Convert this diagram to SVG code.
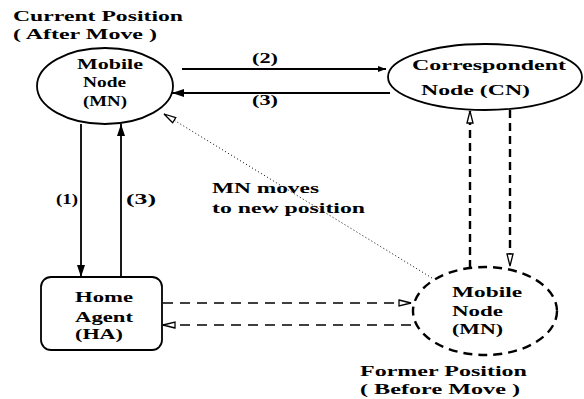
<svg xmlns="http://www.w3.org/2000/svg" width="584" height="399" viewBox="0 0 584 399">
<style>
text{font-family:"Liberation Serif","Times New Roman",serif;font-weight:bold;font-size:15px;fill:#000}
.shape{fill:none;stroke:#000;stroke-width:1.8}
.dashshape{fill:none;stroke:#000;stroke-width:2.4;stroke-dasharray:9 6}
.solid{fill:none;stroke:#000;stroke-width:1.8}
.thickdash{fill:none;stroke:#000;stroke-width:2.4;stroke-dasharray:8 5}
.thindash{fill:none;stroke:#000;stroke-width:1.4;stroke-dasharray:10 7}
.dotted{fill:none;stroke:#000;stroke-width:1;stroke-dasharray:1 2.5}
</style>
<defs>
<marker id="fill" markerUnits="userSpaceOnUse" markerWidth="14" markerHeight="10" refX="12" refY="4" orient="auto">
<path d="M0,0 L12,4 L0,8 z" fill="#000" stroke="none"/>
</marker>
<marker id="small" markerUnits="userSpaceOnUse" markerWidth="10" markerHeight="8" refX="8" refY="3" orient="auto">
<path d="M0,0 L8,3 L0,6 z" fill="#000" stroke="none"/>
</marker>
<marker id="open" markerUnits="userSpaceOnUse" markerWidth="16" markerHeight="10" refX="13" refY="4" orient="auto">
<path d="M1,1 L13,4 L1,7 z" fill="#fff" stroke="#000" stroke-width="1.3" stroke-dasharray="none"/>
</marker>
</defs>

<g id="label-current">
<text x="13" y="21" textLength="170" lengthAdjust="spacingAndGlyphs">Current Position</text>
<text x="13" y="39" textLength="144" lengthAdjust="spacingAndGlyphs">( After Move )</text>
</g>

<g id="mn-current">
<ellipse class="shape" cx="105" cy="86" rx="68" ry="38"/>
<text x="77" y="69" textLength="66" lengthAdjust="spacingAndGlyphs">Mobile</text>
<text x="83" y="87" textLength="43" lengthAdjust="spacingAndGlyphs">Node</text>
<text x="83" y="106" textLength="44" lengthAdjust="spacingAndGlyphs">(MN)</text>
</g>

<g id="cn">
<ellipse class="shape" cx="485" cy="77" rx="97" ry="33"/>
<text x="412" y="70" textLength="154" lengthAdjust="spacingAndGlyphs">Correspondent</text>
<text x="421" y="95" textLength="109" lengthAdjust="spacingAndGlyphs">Node (CN)</text>
</g>

<g id="ha">
<rect class="shape" x="41" y="277" width="121" height="73" rx="10" ry="10"/>
<text x="75" y="302" textLength="58" lengthAdjust="spacingAndGlyphs">Home</text>
<text x="75" y="322" textLength="58" lengthAdjust="spacingAndGlyphs">Agent</text>
<text x="75" y="339" textLength="48" lengthAdjust="spacingAndGlyphs">(HA)</text>
</g>

<g id="mn-former">
<ellipse class="dashshape" cx="485" cy="311" rx="72" ry="44"/>
<text x="452" y="297" textLength="70" lengthAdjust="spacingAndGlyphs">Mobile</text>
<text x="452" y="316" textLength="51" lengthAdjust="spacingAndGlyphs">Node</text>
<text x="452" y="334" textLength="51" lengthAdjust="spacingAndGlyphs">(MN)</text>
</g>

<g id="label-former">
<text x="360" y="376" textLength="167" lengthAdjust="spacingAndGlyphs">Former Position</text>
<text x="360" y="394" textLength="160" lengthAdjust="spacingAndGlyphs">( Before Move )</text>
</g>

<g id="connectors">
<line class="solid" x1="182" y1="69" x2="386" y2="69" marker-end="url(#small)"/>
<line class="solid" x1="390" y1="93" x2="172" y2="93" marker-end="url(#fill)"/>
<line class="solid" x1="81" y1="124" x2="81" y2="277" marker-end="url(#fill)"/>
<line class="solid" x1="121" y1="277" x2="121" y2="124" marker-end="url(#fill)"/>
<line class="thickdash" x1="470" y1="268" x2="470" y2="111" marker-end="url(#open)"/>
<line class="thickdash" x1="510" y1="110" x2="510" y2="266" marker-end="url(#open)"/>
<line class="thindash" x1="163" y1="303" x2="411" y2="303" marker-end="url(#open)"/>
<line class="thindash" x1="411" y1="325" x2="163" y2="325" marker-end="url(#open)"/>
<line class="dotted" x1="432" y1="278" x2="164" y2="114" marker-end="url(#open)"/>
<text x="252" y="63" textLength="26" lengthAdjust="spacingAndGlyphs">(2)</text>
<text x="252" y="105" textLength="26" lengthAdjust="spacingAndGlyphs">(3)</text>
<text x="56" y="204" textLength="22" lengthAdjust="spacingAndGlyphs">(1)</text>
<text x="126" y="204" textLength="30" lengthAdjust="spacingAndGlyphs">(3)</text>
<text x="212" y="193" textLength="107" lengthAdjust="spacingAndGlyphs">MN moves</text>
<text x="212" y="213" textLength="153" lengthAdjust="spacingAndGlyphs">to new position</text>
</g>
</svg>
